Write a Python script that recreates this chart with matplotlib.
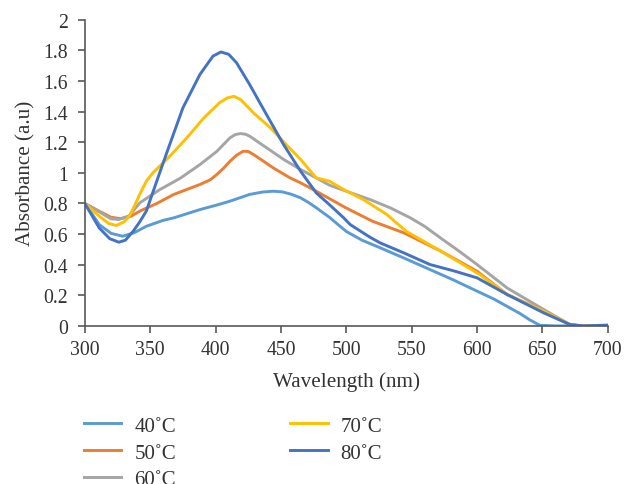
import matplotlib
matplotlib.use('Agg')
import matplotlib.pyplot as plt

plt.rcParams['font.family'] = ['Liberation Serif', 'DejaVu Serif']

# values (wavelength in nm, absorbance in a.u.)
wl_40 = [300, 311, 320, 329, 338, 347, 360, 368, 388, 401, 411, 426, 436, 444, 451, 458, 465, 471, 477, 487, 500, 512, 526, 545, 564, 582, 600, 613, 625, 633, 640, 648, 660, 680, 700]
ab_40 = [0.80, 0.662, 0.605, 0.586, 0.61, 0.651, 0.69, 0.706, 0.76, 0.79, 0.815, 0.859, 0.875, 0.88, 0.876, 0.86, 0.837, 0.807, 0.772, 0.71, 0.617, 0.56, 0.51, 0.44, 0.368, 0.30, 0.227, 0.175, 0.118, 0.08, 0.041, 0.004, 0.0, 0.0, 0.005]

wl_50 = [300, 312, 320, 327, 335, 342, 355, 368, 388, 396, 401, 406, 411, 416, 421, 425, 429, 436, 444, 457, 465, 477, 487, 500, 520, 544, 572, 600, 623, 651, 671, 680, 700]
ab_50 = [0.80, 0.745, 0.71, 0.701, 0.715, 0.75, 0.80, 0.859, 0.924, 0.955, 0.99, 1.03, 1.076, 1.115, 1.141, 1.14, 1.12, 1.08, 1.033, 0.967, 0.935, 0.88, 0.832, 0.77, 0.684, 0.608, 0.49, 0.357, 0.205, 0.096, 0.009, 0.0, 0.0]

wl_60 = [300, 312, 320, 326, 334, 342, 357, 373, 388, 401, 411, 415, 419, 423, 426, 432, 439, 452, 465, 477, 487, 500, 518, 534, 549, 560, 572, 586, 600, 623, 651, 671, 680, 700]
ab_60 = [0.80, 0.74, 0.70, 0.695, 0.72, 0.804, 0.889, 0.965, 1.054, 1.141, 1.229, 1.25, 1.257, 1.252, 1.24, 1.205, 1.164, 1.088, 1.022, 0.967, 0.92, 0.88, 0.826, 0.77, 0.706, 0.65, 0.575, 0.49, 0.401, 0.248, 0.107, 0.009, 0.0, 0.0]

wl_70 = [300, 311, 318, 324, 330, 334, 338, 342, 347, 352, 358, 365, 378, 391, 403, 409, 414, 419, 429, 442, 454, 465, 477, 487, 498, 513, 531, 546, 572, 602, 623, 651, 671, 680, 700]
ab_70 = [0.80, 0.717, 0.67, 0.656, 0.68, 0.717, 0.785, 0.86, 0.945, 1.0, 1.05, 1.109, 1.229, 1.359, 1.458, 1.49, 1.50, 1.48, 1.392, 1.294, 1.185, 1.088, 0.967, 0.946, 0.891, 0.826, 0.728, 0.617, 0.49, 0.336, 0.205, 0.096, 0.009, 0.0, 0.0]

wl_80 = [300, 311, 319, 326, 331, 337, 342, 347, 355, 363, 375, 388, 398, 404, 410, 416, 426, 439, 452, 465, 477, 487, 498, 503, 518, 526, 544, 564, 582, 600, 623, 651, 671, 681, 700]
ab_80 = [0.80, 0.64, 0.57, 0.547, 0.56, 0.619, 0.68, 0.75, 0.946, 1.14, 1.425, 1.643, 1.763, 1.79, 1.775, 1.72, 1.578, 1.38, 1.185, 1.011, 0.869, 0.793, 0.706, 0.662, 0.58, 0.542, 0.477, 0.401, 0.36, 0.314, 0.205, 0.085, 0.009, 0.0, 0.004]

labels = ['40˚C', '50˚C', '60˚C', '70˚C', '80˚C']
colors = ['#5B9BD5', '#ED7D31', '#A5A5A5', '#FFC000', '#4472C4']

x_ticks = [300, 350, 400, 450, 500, 550, 600, 650, 700]
y_ticks = [0, 0.2, 0.4, 0.6, 0.8, 1, 1.2, 1.4, 1.6, 1.8, 2]
y_tick_labels = ['0', '0.2', '0.4', '0.6', '0.8', '1', '1.2', '1.4', '1.6', '1.8', '2']

fig = plt.figure(figsize=(6.24, 4.85), dpi=100)
ax = fig.add_axes([0.136, 0.326, 0.838, 0.631])

series = [(wl_40, ab_40), (wl_50, ab_50), (wl_60, ab_60), (wl_70, ab_70), (wl_80, ab_80)]
for (wl, ab), lab, col in zip(series, labels, colors):
    ax.plot(wl, ab, color=col, lw=2.1, label=lab, solid_joinstyle='round')

ax.set_xlim(300, 700)
ax.set_ylim(0, 2)
ax.set_xticks(x_ticks)
ax.set_yticks(y_ticks)
ax.set_yticklabels(y_tick_labels)
ax.tick_params(labelsize=14.2, colors='#595959', labelcolor='#333333', length=5, width=1.2)
ax.tick_params(axis='x', pad=5)
ax.tick_params(axis='y', pad=7)
for side in ['top', 'right']:
    ax.spines[side].set_visible(False)
for side in ['left', 'bottom']:
    ax.spines[side].set_color('#595959')
    ax.spines[side].set_linewidth(1.2)

ax.set_xlabel('Wavelength (nm)', fontsize=15.2, color='#333333', labelpad=9)
ax.set_ylabel('Absorbance (a.u)', fontsize=15.2, color='#333333', labelpad=6)

# legend below the plot, cut at the bottom edge as in the reference
fig.legend(loc='upper left', bbox_to_anchor=(0.135, 0.14), ncol=2, frameon=False,
           fontsize=15, handlelength=1.78, handletextpad=0.62, columnspacing=5.5,
           labelspacing=0.35, borderpad=0, borderaxespad=0, labelcolor='#333333')

fig.savefig('out.png', dpi=100)
